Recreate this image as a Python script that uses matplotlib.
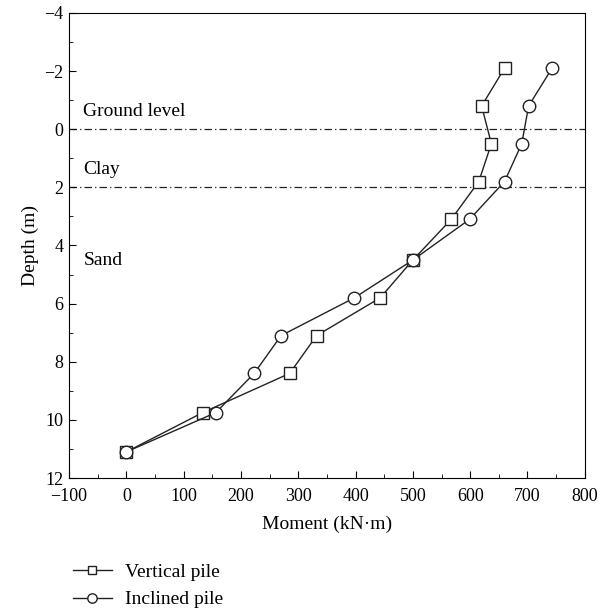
import matplotlib
matplotlib.use('Agg')
import matplotlib.pyplot as plt
from matplotlib.ticker import MultipleLocator

plt.rcParams['font.family'] = ['Liberation Serif', 'DejaVu Serif']
plt.rcParams['font.size'] = 13

# Moment distribution along the pile
depth = [-2.1, -0.8, 0.5, 1.8, 3.1, 4.5, 5.8, 7.1, 8.4, 9.75, 11.1]
vertical_moment = [660, 620, 637, 615, 567, 500, 443, 332, 285, 133, 0]
inclined_moment = [743, 702, 690, 660, 599, 500, 398, 270, 223, 156, 0]

layer_levels = [0, 2]
layer_names = ['Ground level', 'Clay', 'Sand']
layer_label_y = [-0.6, 1.4, 4.5]

x_ticks = list(range(-100, 801, 100))
y_ticks = list(range(-4, 13, 2))

fig = plt.figure(figsize=(6.01, 6.16), dpi=100)
ax = fig.add_axes([0.115, 0.224, 0.858, 0.755])

ax.plot(vertical_moment, depth, color='#222222', lw=1.0, marker='s', ms=8,
        mfc='white', mec='#222222', mew=1.0, label='Vertical pile')
ax.plot(inclined_moment, depth, color='#222222', lw=1.0, marker='o', ms=9,
        mfc='white', mec='#222222', mew=1.0, label='Inclined pile')

for lvl in layer_levels:
    ax.axhline(lvl, color='#222222', lw=0.9, ls=(0, (6, 2.5, 1, 2.5)), zorder=0)

for name, yy in zip(layer_names, layer_label_y):
    ax.text(-75, yy, name, ha='left', va='center', fontsize=14)

ax.set_xlim(-100, 800)
ax.set_ylim(12, -4)
ax.set_xticks(x_ticks)
ax.set_xticklabels(['\u2212' + str(-v) if v < 0 else str(v) for v in x_ticks])
ax.set_yticks(y_ticks)
ax.set_yticklabels(['\u2212' + str(-v) if v < 0 else str(v) for v in y_ticks])
ax.xaxis.set_minor_locator(MultipleLocator(50))
ax.yaxis.set_minor_locator(MultipleLocator(1))
ax.tick_params(which='both', direction='in', top=False, right=False)
ax.tick_params(which='major', length=5)
ax.tick_params(which='minor', length=3)
ax.tick_params(axis='x', pad=7)
ax.tick_params(axis='y', pad=4)

ax.set_xlabel('Moment (kN\u00b7m)', fontsize=14, labelpad=8)
ax.set_ylabel('Depth (m)', fontsize=14, labelpad=4)

fig.legend(loc='lower left', bbox_to_anchor=(0.092, -0.016), frameon=False,
           handlelength=2.0, handletextpad=0.7, markerscale=0.75, fontsize=14,
           labelspacing=0.5)

fig.savefig('out.png', dpi=100)
